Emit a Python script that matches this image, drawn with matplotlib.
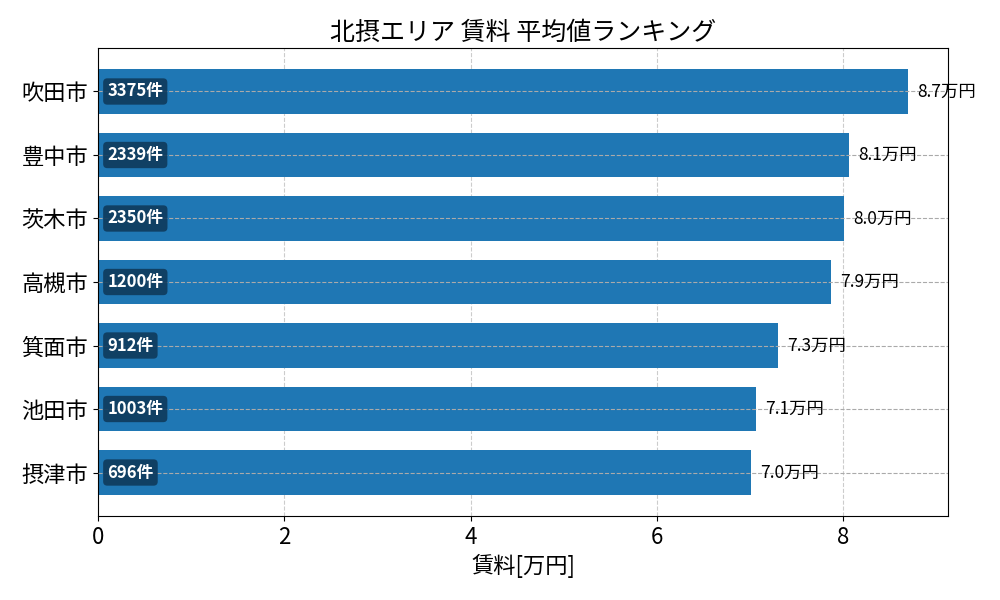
import matplotlib
matplotlib.use("Agg")
import matplotlib.pyplot as plt

plt.rcParams['font.family'] = ['Noto Sans CJK JP', 'DejaVu Sans']

# data
cities = ["吹田市", "豊中市", "茨木市", "高槻市", "箕面市", "池田市", "摂津市"]
rent = [8.69, 8.06, 8.01, 7.87, 7.30, 7.06, 7.01]
counts = [3375, 2339, 2350, 1200, 912, 1003, 696]

fig, ax = plt.subplots(figsize=(10, 6), dpi=100)
fig.subplots_adjust(left=0.098, right=0.948, top=0.92, bottom=0.14)

# reverse so the highest sits on top
ypos = list(range(len(cities)))[::-1]
bars = ax.barh(ypos, rent, height=0.7, color='#1f77b4', zorder=2)

ax.set_yticks(ypos)
ax.set_yticklabels(cities, fontsize=16)
ax.tick_params(axis='x', labelsize=16)
ax.set_xlim(0, max(rent) * 1.05)

ax.set_axisbelow(True)
ax.xaxis.grid(True, linestyle='--', color='#cccccc', linewidth=0.8)
ax.yaxis.grid(True, linestyle='--', color='#aaaaaa', linewidth=0.8)
ax.yaxis.set_zorder(3)

for y, v, c in zip(ypos, rent, counts):
    ax.text(v + 0.1, y, f"{v:.1f}万円", va='center', ha='left', fontsize=12.5, zorder=4)
    ax.text(0.1, y, f"{c}件", va='center', ha='left', fontsize=12, color='white',
            fontweight='bold', zorder=4,
            bbox=dict(boxstyle='round,pad=0.25', facecolor='#0f3a5c', edgecolor='none', alpha=0.9))

ax.set_title("北摂エリア 賃料 平均値ランキング", fontsize=18)
ax.set_xlabel("賃料[万円]", fontsize=16)

plt.savefig("out.png")
